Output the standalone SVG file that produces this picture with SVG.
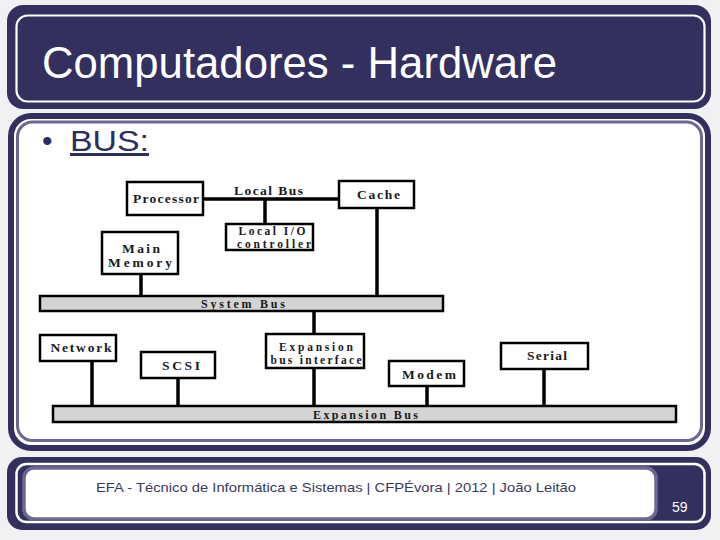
<svg xmlns="http://www.w3.org/2000/svg" width="720" height="540" viewBox="0 0 720 540">
<style>
.nav{fill:#33305f}
.box{fill:#ffffff;stroke:#000;stroke-width:2.5}
.bar{fill:#d4d4d4;stroke:#000;stroke-width:2.5}
.lbl{font-family:"Liberation Serif","Times New Roman",serif;font-weight:bold;font-size:13.5px;fill:#1a1a1a;text-anchor:middle}
.sm{font-size:12px}
.xs{font-size:11.5px}
.wire{stroke:#000;stroke-width:3.5;fill:none}
</style>
<rect x="0" y="0" width="720" height="540" fill="#f1f1f3"/>
<g id="title-panel">
<rect x="7" y="5" width="704" height="104" rx="16" class="nav"/>
<rect x="16.5" y="15.5" width="688" height="86" rx="11" fill="none" stroke="#ffffff" stroke-width="2.2"/>
<text x="42" y="78" font-family="'Liberation Sans',Arial,sans-serif" font-size="44" fill="#ffffff" textLength="515" lengthAdjust="spacingAndGlyphs">Computadores - Hardware</text>
</g>
<g id="content-panel">
<rect x="11" y="116" width="697" height="332" rx="20" fill="#ffffff" stroke="#33305f" stroke-width="6"/>
<rect x="17.5" y="122" width="684" height="318.5" rx="15" fill="none" stroke="#6c6893" stroke-width="3"/>
<text x="42" y="151" font-family="'Liberation Sans',Arial,sans-serif" font-size="30" fill="#2e2d60">•</text>
<text x="70" y="151" font-family="'Liberation Sans',Arial,sans-serif" font-size="30" fill="#2e2d60" text-decoration="underline" textLength="79" lengthAdjust="spacingAndGlyphs">BUS:</text>
</g>
<g id="connectors">
<line class="wire" x1="203" y1="199" x2="339" y2="199" stroke-width="4.5"/>
<line class="wire" x1="265" y1="199" x2="265" y2="224"/>
<line class="wire" x1="377" y1="208" x2="377" y2="296"/>
<line class="wire" x1="141" y1="274" x2="141" y2="296"/>
<line class="wire" x1="314" y1="311" x2="314" y2="334"/>
<line class="wire" x1="92" y1="361" x2="92" y2="406"/>
<line class="wire" x1="178" y1="378" x2="178" y2="406"/>
<line class="wire" x1="314" y1="368" x2="314" y2="406"/>
<line class="wire" x1="427" y1="386" x2="427" y2="406"/>
<line class="wire" x1="544" y1="369" x2="544" y2="406"/>
</g>
<g id="local-bus-label"><text class="lbl" x="268.5" y="195" textLength="69" lengthAdjust="spacing">Local Bus</text></g>
<g id="processor"><rect class="box" x="127" y="182" width="76" height="33"/><text class="lbl" x="166" y="203" textLength="66" lengthAdjust="spacing">Processor</text></g>
<g id="cache"><rect class="box" x="339" y="181" width="75" height="27"/><text class="lbl" x="378.5" y="199" textLength="43" lengthAdjust="spacing">Cache</text></g>
<g id="local-io"><rect class="box" x="226" y="224" width="87" height="26"/><text class="lbl xs" x="272" y="234.5" textLength="67" lengthAdjust="spacing">Local I/O</text><text class="lbl xs" x="274" y="247.5" textLength="74" lengthAdjust="spacing">controller</text></g>
<g id="main-memory"><rect class="box" x="102" y="232" width="76" height="42"/><text class="lbl" x="141" y="253" textLength="38" lengthAdjust="spacing">Main</text><text class="lbl" x="140" y="267" textLength="64" lengthAdjust="spacing">Memory</text></g>
<g id="system-bus"><rect class="bar" x="40" y="296" width="403" height="15"/><text class="lbl sm" x="243" y="307.5" textLength="84" lengthAdjust="spacing">System Bus</text></g>
<g id="network"><rect class="box" x="40" y="335" width="76" height="26"/><text class="lbl" x="81" y="352" textLength="61" lengthAdjust="spacing">Network</text></g>
<g id="scsi"><rect class="box" x="141" y="352" width="74" height="26"/><text class="lbl" x="181" y="370" textLength="38" lengthAdjust="spacing">SCSI</text></g>
<g id="expansion-interface"><rect class="box" x="266" y="334" width="98" height="34"/><text class="lbl xs" x="316" y="351" textLength="74" lengthAdjust="spacing">Expansion</text><text class="lbl xs" x="316" y="364" textLength="91" lengthAdjust="spacing">bus interface</text></g>
<g id="modem"><rect class="box" x="389" y="361" width="75" height="25"/><text class="lbl" x="429" y="379" textLength="54" lengthAdjust="spacing">Modem</text></g>
<g id="serial"><rect class="box" x="501" y="343" width="87" height="26"/><text class="lbl" x="547" y="360" textLength="40" lengthAdjust="spacing">Serial</text></g>
<g id="expansion-bus"><rect class="bar" x="53" y="406" width="623" height="16"/><text class="lbl sm" x="365.5" y="418.5" textLength="105" lengthAdjust="spacing">Expansion Bus</text></g>
<g id="footer">
<rect x="7" y="457" width="704" height="73" rx="15" class="nav"/>
<rect x="16.5" y="464" width="688" height="58" rx="10" fill="none" stroke="#ffffff" stroke-width="2.5"/>
<rect x="24" y="468" width="632" height="51" rx="10" fill="#ffffff" stroke="#6c6893" stroke-width="3.5"/>
<text x="96" y="492" font-family="'Liberation Sans',Arial,sans-serif" font-size="13" fill="#3a395c" textLength="480" lengthAdjust="spacingAndGlyphs">EFA - Técnico de Informática e Sistemas | CFPÉvora | 2012 | João Leitão</text>
<text x="672" y="512" font-family="'Liberation Sans',Arial,sans-serif" font-size="14" fill="#ffffff">59</text>
</g>
</svg>
